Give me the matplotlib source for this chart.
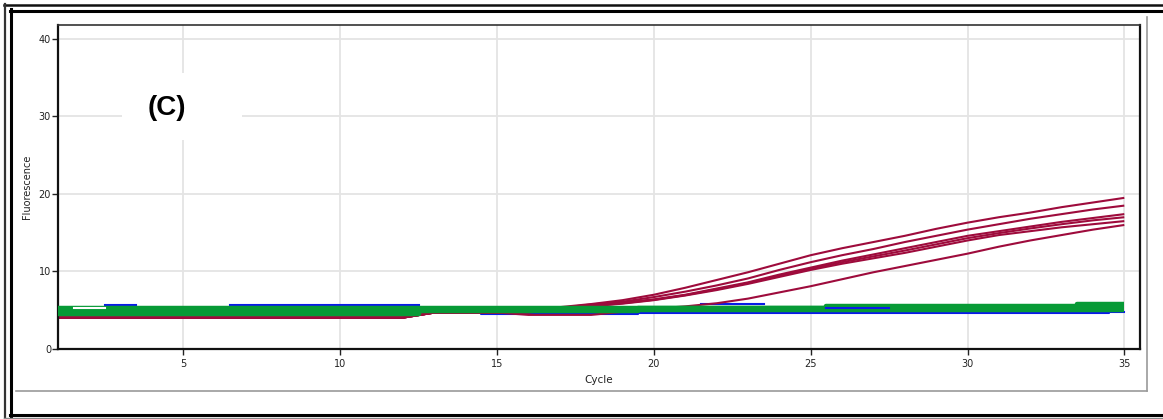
import matplotlib
matplotlib.use("Agg")
import matplotlib.pyplot as plt
from matplotlib.lines import Line2D
from matplotlib.patches import Rectangle

W, H = 1163, 419
nan = float("nan")

# ---- data -------------------------------------------------------------
cycles = list(range(1, 36))

# amplification curves (red channel)
red_a = [4.05, 4.05, 4.05, 4.05, 4.05, 4.05, 4.05, 4.05, 4.05, 4.05, 4.05, 4.05,
         4.7, 4.7, 4.7, 4.8, 5.4, 5.8, 6.3, 7.0, 7.9, 8.9, 9.9, 11.0, 12.1, 13.0,
         13.8, 14.6, 15.5, 16.3, 17.0, 17.6, 18.3, 18.9, 19.5]
red_b = [4.05, 4.05, 4.05, 4.05, 4.05, 4.05, 4.05, 4.05, 4.05, 4.05, 4.05, 4.05,
         4.7, 4.7, 4.7, 4.8, 5.3, 5.75, 6.1, 6.7, 7.4, 8.2, 9.1, 10.2, 11.2, 12.1,
         12.9, 13.8, 14.6, 15.4, 16.1, 16.8, 17.4, 18.0, 18.5]
red_c = [4.05, 4.05, 4.05, 4.05, 4.05, 4.05, 4.05, 4.05, 4.05, 4.05, 4.05, 4.05,
         4.7, 4.7, 4.7, 4.75, 5.2, 5.6, 6.0, 6.4, 7.0, 7.8, 8.6, 9.6, 10.5, 11.4,
         12.2, 13.0, 13.8, 14.6, 15.2, 15.8, 16.4, 16.9, 17.4]
red_d = [4.05, 4.05, 4.05, 4.05, 4.05, 4.05, 4.05, 4.05, 4.05, 4.05, 4.05, 4.05,
         4.7, 4.7, 4.7, 4.75, 5.2, 5.55, 5.9, 6.35, 6.95, 7.7, 8.5, 9.45, 10.35,
         11.2, 11.95, 12.7, 13.5, 14.3, 14.95, 15.55, 16.1, 16.6, 17.0]
red_e = [4.05, 4.05, 4.05, 4.05, 4.05, 4.05, 4.05, 4.05, 4.05, 4.05, 4.05, 4.05,
         4.7, 4.7, 4.7, 4.7, 5.1, 5.5, 5.85, 6.3, 6.9, 7.6, 8.4, 9.3, 10.2, 11.0,
         11.7, 12.4, 13.2, 14.0, 14.7, 15.2, 15.7, 16.1, 16.5]
red_f = [4.05, 4.05, 4.05, 4.05, 4.05, 4.05, 4.05, 4.05, 4.05, 4.05, 4.05, 4.05,
         4.7, 4.7, 4.7, 4.4, 4.4, 4.4, 4.8, 5.2, 5.5, 5.9, 6.5, 7.3, 8.1, 9.0,
         9.9, 10.7, 11.5, 12.3, 13.2, 14.0, 14.7, 15.4, 16.0]
red_series = [red_a, red_b, red_c, red_d, red_e, red_f]

# flat traces (green channel)
green_1 = [4.48, 4.48, 4.48, 4.48, 4.48, 4.48, 4.48, 4.48, 4.48, 4.48, 4.48, 4.48,
           4.88, 4.88, 4.88, 4.88, 4.88, 4.88, 4.88, 5.08, 5.08, 5.08, 5.08, 5.08,
           5.08, 5.08, 5.08, 5.08, 5.08, 5.08, 5.08, 5.08, 5.08, 5.08, 5.08]
green_2 = [4.76, 4.76, 4.76, 4.76, 4.76, 4.76, 4.76, 4.76, 4.76, 4.76, 4.76, 4.76,
           5.03, 5.03, 5.03, 5.03, 5.03, 5.03, 5.03, 5.16, 5.16, 5.16, 5.16, 5.16,
           5.16, 5.23, 5.23, 5.23, 5.23, 5.23, 5.23, 5.23, 5.23, 5.31, 5.31]
green_3 = [5.04, 5.04, 5.04, 5.04, 5.04, 5.04, 5.04, 5.04, 5.04, 5.04, 5.04, 5.04,
           5.17, 5.17, 5.17, 5.17, 5.17, 5.17, 5.17, 5.24, 5.24, 5.24, 5.24, 5.24,
           5.24, 5.37, 5.37, 5.37, 5.37, 5.37, 5.37, 5.37, 5.37, 5.54, 5.54]
green_4 = [5.32, 5.32, 5.32, 5.32, 5.32, 5.32, 5.32, 5.32, 5.32, 5.32, 5.32, 5.32,
           5.32, 5.32, 5.32, 5.32, 5.32, 5.32, 5.32, 5.32, 5.32, 5.32, 5.32, 5.32,
           5.32, 5.52, 5.52, 5.52, 5.52, 5.52, 5.52, 5.52, 5.52, 5.77, 5.77]
green_series = [green_1, green_2, green_3, green_4]

# flat traces (blue channel); nan where a trace runs inside the green band
blue_1 = [nan, nan, 5.7, nan, nan, nan, 5.7, 5.7, 5.7, 5.7, 5.7, 5.7,
          nan, nan, nan, nan, nan, nan, nan, nan, nan, 5.75, 5.75, nan, nan,
          nan, nan, nan, nan, nan, nan, nan, nan, nan, nan]
blue_2 = [5.0, 5.0, 5.0, 5.0, 5.0, 5.0, 5.0, 5.0, 5.0, 5.0, 5.0, 5.0, 5.0, 5.0,
          4.47, 4.47, 4.47, 4.47, 4.47, 4.67, 4.67, 4.67, 4.67, 4.67, 4.67, 4.67,
          4.67, 4.67, 4.67, 4.67, 4.7, 4.7, 4.7, 4.7, 4.75]
blue_3 = [nan, nan, nan, nan, nan, nan, nan, nan, nan, nan, nan, nan, nan, nan,
          nan, nan, nan, nan, nan, nan, nan, nan, nan, nan, nan, 5.3, 5.3, nan,
          nan, nan, nan, nan, nan, nan, nan]
# short white trace near the start
white_1 = [nan, 5.35, nan, nan, nan, nan, nan, nan, nan, nan, nan, nan, nan, nan,
           nan, nan, nan, nan, nan, nan, nan, nan, nan, nan, nan, nan, nan, nan,
           nan, nan, nan, nan, nan, nan, nan]

x_ticks = [5, 10, 15, 20, 25, 30, 35]
y_ticks = [0, 10, 20, 30, 40]

RED = "#9e0b3c"
GREEN = "#079a36"
BLUE = "#0a1ae8"

# ---- figure -----------------------------------------------------------
plt.rcParams["font.family"] = ["DejaVu Sans"]
fig = plt.figure(figsize=(W / 100, H / 100), dpi=100)
fig.patch.set_facecolor("white")


def fx(px):
    return px / W


def fy(py):
    return 1 - py / H


ax = fig.add_axes([fx(58), fy(349), fx(1140) - fx(58), fy(25) - fy(349)])
ax.set_xlim(1, 35.5)
ax.set_ylim(0, 41.8)
ax.set_axisbelow(True)
ax.grid(True, color="#e4e4e4", lw=1.3)
ax.set_xticks(x_ticks)
ax.set_yticks(y_ticks)
ax.tick_params(axis="both", labelsize=7, colors="#222222", width=1.0)
ax.tick_params(axis="x", length=4.5, pad=3)
ax.tick_params(axis="y", length=4, pad=1)
for side in ["left", "bottom", "right"]:
    ax.spines[side].set_linewidth(1.6)
    ax.spines[side].set_color("#111111")
ax.spines["top"].set_linewidth(1.2)
ax.spines["top"].set_color("#333333")

ax.set_xlabel("Cycle", fontsize=7.5, color="#222222", labelpad=4)
ax.set_ylabel("Fluorescence", fontsize=7, color="#222222", labelpad=5)

ax.plot(cycles, blue_1, color=BLUE, lw=1.5, drawstyle="steps-mid", zorder=2)
ax.plot(cycles, blue_2, color=BLUE, lw=1.5, drawstyle="steps-mid", zorder=2)
for s in red_series:
    ax.plot(cycles, s, color=RED, lw=1.5, zorder=2.5, solid_capstyle="butt")
for s in green_series:
    ax.plot(cycles, s, color=GREEN, lw=3.2, drawstyle="steps-mid", zorder=3,
            solid_capstyle="butt")
ax.plot(cycles, blue_3, color=BLUE, lw=1.5, drawstyle="steps-mid", zorder=3.5)
ax.plot(cycles, white_1, color="white", lw=1.5, drawstyle="steps-mid", zorder=3.5)

# panel label on a white patch
ax.add_patch(Rectangle((fx(122), fy(140)), fx(242) - fx(122), fy(73) - fy(140),
                       transform=fig.transFigure, facecolor="white",
                       edgecolor="none", zorder=1))
fig.text(fx(167), fy(108), "(C)", fontsize=20, fontweight="bold",
         family=["Liberation Sans"], ha="center", va="center", color="black")

# window frame
def hline(y, x0, x1, lw, color):
    fig.add_artist(Line2D([fx(x0), fx(x1)], [fy(y), fy(y)], lw=lw, color=color))


def vline(x, y0, y1, lw, color):
    fig.add_artist(Line2D([fx(x), fx(x)], [fy(y0), fy(y1)], lw=lw, color=color))


hline(5.5, 4, W, 1.8, "#111111")
vline(5, 4, H, 1.6, "#333333")
hline(11, 9.5, W, 2.2, "#000000")
vline(11, 9.5, 415.5, 2.2, "#000000")
hline(414.5, 9.5, W, 2.2, "#000000")
hline(418, 4, W, 1.0, "#888888")
vline(1146.5, 17, 391, 1.2, "#9a9a9a")
hline(391, 16, 1147, 1.2, "#9a9a9a")

fig.savefig("out.png", dpi=100)
